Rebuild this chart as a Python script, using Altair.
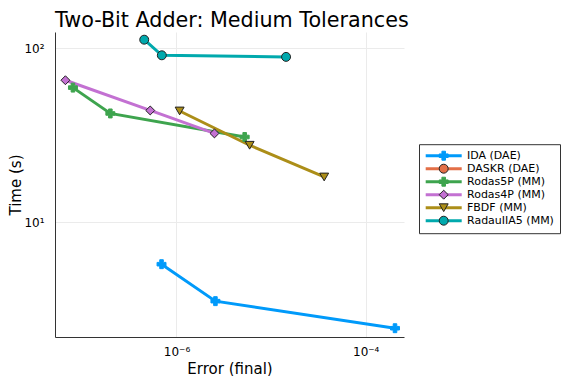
import math
import altair as alt
import pandas as pd

solvers = ["IDA (DAE)", "DASKR (DAE)", "Rodas5P (MM)", "Rodas4P (MM)", "FBDF (MM)", "RadauIIA5 (MM)"]
colors = ["#009AFA", "#E36F47", "#3EA44E", "#C371D2", "#AC8E18", "#00A9AD"]
shapes = ["cross", "circle", "cross", "diamond", "triangle-down", "circle"]
outline = ["#009AFA", "#222222", "#3EA44E", "#222222", "#222222", "#222222"]

ida_err = [6.95e-7, 2.58e-6, 2.04e-4]
ida_time = [5.74, 3.52, 2.46]
daskr_err = []
daskr_time = []
rodas5p_err = [8.05e-8, 2.0e-7, 5.26e-6]
rodas5p_time = [59.4, 42.2, 30.9]
rodas4p_err = [6.7e-8, 5.28e-7, 2.52e-6]
rodas4p_time = [65.5, 43.9, 32.4]
fbdf_err = [1.08e-6, 5.93e-6, 3.64e-5]
fbdf_time = [43.6, 27.7, 18.2]
radau_err = [4.56e-7, 7.0e-7, 1.44e-5]
radau_time = [112.0, 91.1, 89.2]

x_ticks = [1e-6, 1e-4]
y_ticks = [10, 100]
x_domain = [5.2e-8, 2.54e-4]
y_domain = [2.19, 124.0]

series = [
    ("IDA (DAE)", ida_err, ida_time),
    ("DASKR (DAE)", daskr_err, daskr_time),
    ("Rodas5P (MM)", rodas5p_err, rodas5p_time),
    ("Rodas4P (MM)", rodas4p_err, rodas4p_time),
    ("FBDF (MM)", fbdf_err, fbdf_time),
    ("RadauIIA5 (MM)", radau_err, radau_time),
]
rows = []
for name, errs, times in series:
    for e, t in zip(errs, times):
        rows.append({"solver": name, "marker": "pt:" + name, "err": e, "time": t})
df = pd.DataFrame(rows)
marker_domain = ["pt:" + s for s in solvers]

SUP = str.maketrans("-0123456789", "⁻⁰¹²³⁴⁵⁶⁷⁸⁹")


def label_expr(ticks):
    expr = "''"
    for v in reversed(ticks):
        p = int(round(math.log10(v)))
        lab = "10" + str(p).translate(SUP)
        expr = f"round(log(datum.value)/LN10) == {p} ? '{lab}' : {expr}"
    return expr


FONT = "DejaVu Sans"

x = alt.X(
    "err:Q",
    scale=alt.Scale(type="log", domain=x_domain, nice=False),
    axis=alt.Axis(values=x_ticks, labelExpr=label_expr(x_ticks), title="Error (final)",
                  ticks=False, labelPadding=9, titlePadding=4, labelFontSize=12,
                  titleFontSize=15),
)
y = alt.Y(
    "time:Q",
    scale=alt.Scale(type="log", domain=y_domain, nice=False),
    axis=alt.Axis(values=y_ticks, labelExpr=label_expr(y_ticks), title="Time (s)",
                  ticks=False, labelPadding=11, titlePadding=0, labelFontSize=12,
                  titleFontSize=15),
)

base = alt.Chart(df)

line_legend = alt.Legend(
    title=None, orient="none", legendX=364, legendY=112.2,
    symbolType="M-1.2,0H7.8", symbolSize=64, symbolStrokeWidth=3,
    labelFontSize=11, labelFont=FONT, labelOffset=31, rowPadding=0,
    padding=6, strokeColor="#333333", fillColor="white",
)
pt_legend = alt.Legend(
    title=None, orient="none", legendX=377.2, legendY=112.2,
    symbolSize=80, symbolStrokeWidth=1, symbolOpacity=1,
    labelFontSize=11, labelFont=FONT, labelOffset=3, rowPadding=0,
    labelExpr="' '", padding=6,
)

lines = base.mark_line(strokeWidth=3).encode(
    x=x, y=y,
    color=alt.Color("solver:N", scale=alt.Scale(domain=solvers, range=colors), legend=line_legend),
)
points = base.mark_point(filled=True, size=80, strokeWidth=1, opacity=1).encode(
    x=x, y=y,
    shape=alt.Shape("marker:N", scale=alt.Scale(domain=marker_domain, range=shapes), legend=pt_legend),
    fill=alt.Fill("marker:N", scale=alt.Scale(domain=marker_domain, range=colors), legend=pt_legend),
    stroke=alt.Stroke("marker:N", scale=alt.Scale(domain=marker_domain, range=outline), legend=pt_legend),
)

chart = (
    alt.layer(lines, points)
    .properties(
        width=349, height=305,
        autosize=alt.AutoSizeParams(type="none"),
        padding={"left": 47, "top": 24, "right": 164, "bottom": 39},
        title=alt.TitleParams("Two-Bit Adder: Medium Tolerances", anchor="start", frame="group",
                              fontSize=20.7, fontWeight="normal", font=FONT, color="black", offset=0),
    )
    .configure(font=FONT)
    .configure_view(stroke=None)
    .configure_axis(domainColor="#333333", domainWidth=1, gridColor="#ebebeb", gridWidth=1,
                    labelColor="black", titleColor="black", titleFontWeight="normal",
                    labelFont=FONT, titleFont=FONT)
)

chart.save("out.html", embed_options={"renderer": "svg", "actions": False})
